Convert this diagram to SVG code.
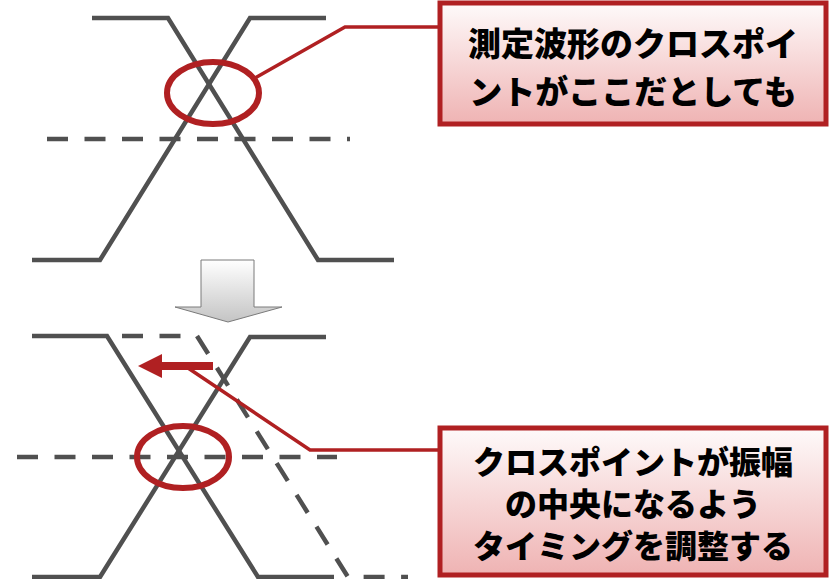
<svg xmlns="http://www.w3.org/2000/svg" width="829" height="579" viewBox="0 0 829 579">
<defs>
<linearGradient id="boxg" x1="0" y1="0" x2="0" y2="1">
<stop offset="0" stop-color="#fefafa"/>
<stop offset="1" stop-color="#efb3b3"/>
</linearGradient>
<linearGradient id="arrg" x1="0" y1="0" x2="0" y2="1">
<stop offset="0" stop-color="#ffffff"/>
<stop offset="1" stop-color="#c4c4c4"/>
</linearGradient>
<style>
.w{fill:none;stroke:#505050;stroke-width:4.5;stroke-linejoin:miter}
.d{fill:none;stroke:#505050;stroke-width:4.5;stroke-dasharray:21 16.5}
.ring{fill:none;stroke:#b02022;stroke-width:6}
.lead{fill:none;stroke:#b02022;stroke-width:3.5}
.box{fill:url(#boxg);stroke:#b02022;stroke-width:5}
.t{font-family:"Noto Sans CJK JP",sans-serif;font-weight:900;font-size:32px;fill:#000;text-anchor:middle}
.tt{font-size:33px}
</style>
</defs>
<g id="waveform-top">
<polyline class="w" points="92,18 168,18 318,260 394,260"/>
<polyline class="w" points="32,260 100,260 250,18 326,18"/>
<line class="d" x1="47" y1="139" x2="350" y2="139"/>
</g>
<g id="waveform-bottom">
<polyline class="w" points="32,336 107,336 258,577 334,577"/>
<polyline class="w" points="32,577 100,577 250,337 326,337"/>
<polyline class="d" points="122,336 197,336 348,577 408,577"/>
<line class="d" x1="17" y1="457" x2="337" y2="457"/>
</g>
<g id="down-arrow">
<polygon points="201,260 254,260 254,307 282,307 228,322 175,307 201,307" fill="url(#arrg)" stroke="#7a7a7a" stroke-width="1"/>
</g>
<g id="connectors">
<polyline class="lead" points="255,78 345,27 440,27"/>
<polyline class="lead" points="188,368 310,450 440,450"/>
<rect x="161" y="362" width="52" height="8" fill="#b02022"/>
<polygon points="138,366 162,354 162,378" fill="#b02022"/>
</g>
<g id="ellipse-top">
<ellipse class="ring" cx="213" cy="93" rx="46" ry="31"/>
</g>
<g id="ellipse-bottom">
<ellipse class="ring" cx="183" cy="457" rx="46" ry="31"/>
</g>
<g id="box-top">
<rect class="box" x="440" y="3" width="386" height="121"/>
<text class="t tt" x="633" y="56">測定波形のクロスポイ</text>
<text class="t tt" x="633" y="104">ントがここだとしても</text>
</g>
<g id="box-bottom">
<rect class="box" x="440" y="428" width="386" height="147"/>
<text class="t" x="633" y="474">クロスポイントが振幅</text>
<text class="t" x="633" y="516">の中央になるよう</text>
<text class="t" x="633" y="558">タイミングを調整する</text>
</g>
</svg>
